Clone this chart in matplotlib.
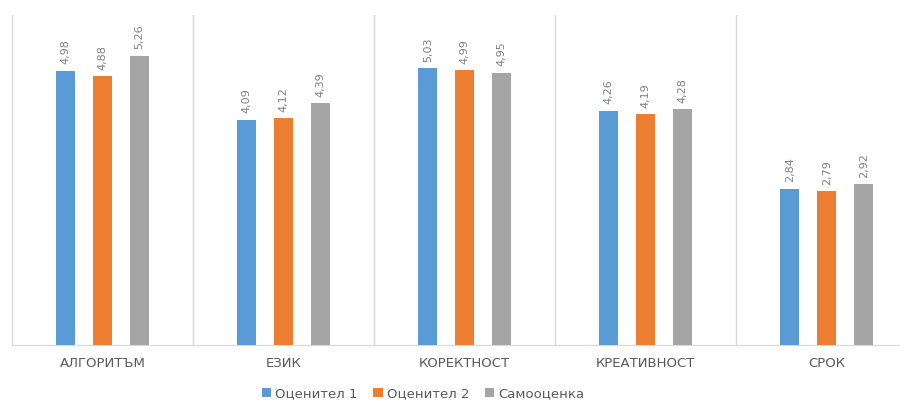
import matplotlib.pyplot as plt
import numpy as np

categories = ["АЛГОРИТЪМ", "ЕЗИК", "КОРЕКТНОСТ", "КРЕАТИВНОСТ", "СРОК"]
series_names = ["Оценител 1", "Оценител 2", "Самооценка"]
ocenitel_1 = [4.98, 4.09, 5.03, 4.26, 2.84]
ocenitel_2 = [4.88, 4.12, 4.99, 4.19, 2.79]
samoocenka = [5.26, 4.39, 4.95, 4.28, 2.92]

colors = ["#5b9bd5", "#ed7d31", "#a5a5a5"]
text_color = "#595959"

fig = plt.figure(figsize=(9, 4.01), dpi=100)
# plot area runs a little past the right edge of the figure
ax = fig.add_axes([0.0133, 0.14, 1.006, 0.823])

x = np.arange(len(categories))
offset = 0.204
width = 0.105
for i, (name, vals) in enumerate(zip(series_names, [ocenitel_1, ocenitel_2, samoocenka])):
    pos = x + (i - 1) * offset
    bars = ax.bar(pos, vals, width=width, color=colors[i], label=name, zorder=3)
    for b, v in zip(bars, vals):
        ax.text(b.get_x() + b.get_width() / 2, v + 0.12, f"{v:.2f}".replace(".", ","),
                rotation=90, ha="center", va="bottom", fontsize=8, color="#7f7f7f")

ax.set_xlim(-0.5, len(categories) - 0.5)
ax.set_ylim(0, 6)

# category separators
for b in np.arange(-0.5, len(categories), 1.0):
    ax.axvline(b, color="#d9d9d9", lw=1, zorder=1)

for s in ["top", "right", "left"]:
    ax.spines[s].set_visible(False)
ax.spines["bottom"].set_color("#d9d9d9")
ax.set_yticks([])
ax.set_xticks(x)
ax.set_xticklabels(categories, fontsize=9.5, color=text_color)
ax.tick_params(axis="x", length=0, pad=9)

handles, labels = ax.get_legend_handles_labels()
fig.legend(handles, labels, loc="lower center", bbox_to_anchor=(0.47, -0.028), ncol=3,
           frameon=False, fontsize=9.5, labelcolor=text_color, handlelength=0.7,
           handleheight=0.7, handletextpad=0.3, columnspacing=1.2)

fig.savefig("out.png", dpi=100)
